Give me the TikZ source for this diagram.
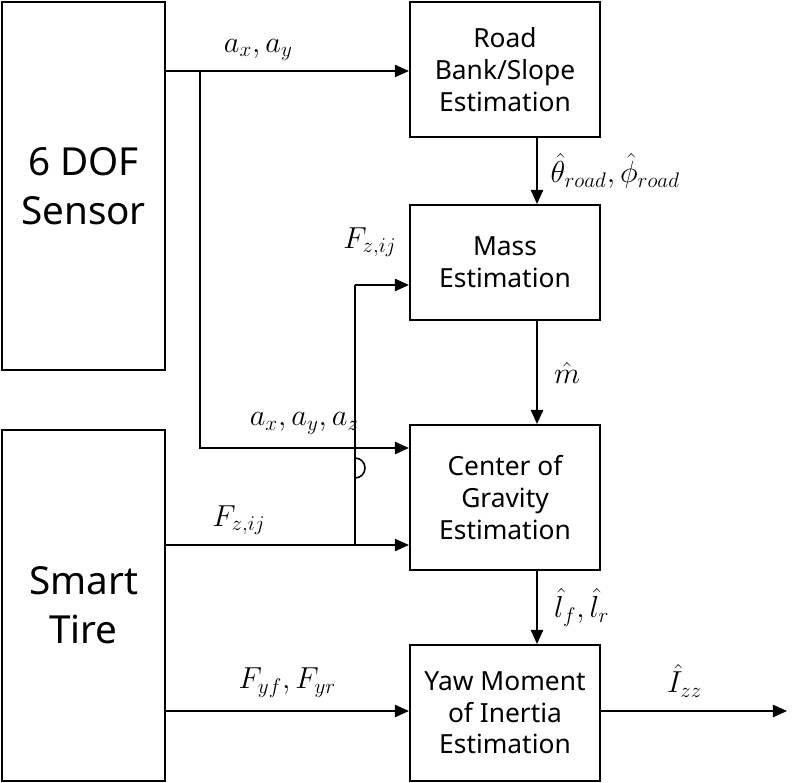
\documentclass[tikz,border=0pt]{standalone}
\usepackage{fontspec}
\setmainfont{Noto Sans}
\usetikzlibrary{arrows.meta}
\begin{document}
\begin{tikzpicture}[x=0.02cm,y=-0.02cm,
  box/.style={draw,line width=1.2pt,inner sep=0pt,align=center,font=\fontsize{15}{18}\selectfont},
  big/.style={draw,line width=1.2pt,inner sep=0pt,align=center,font=\fontsize{22}{28}\selectfont},
  ar/.style={-{Triangle[length=8pt,width=7pt]},line width=0.9pt},
  ln/.style={line width=0.9pt},
  lab/.style={font=\fontsize{17}{20}\selectfont}]
\useasboundingbox (0,0) rectangle (800,783);
\node[big,minimum width=163*0.02cm,minimum height=368*0.02cm] (s6) at (83.5,186) {6 DOF\\Sensor};
\node[big,minimum width=163*0.02cm,minimum height=351*0.02cm] (st) at (83.5,605.5) {Smart\\Tire};
\node[box,minimum width=190*0.02cm,minimum height=135*0.02cm] (road) at (505,69.5) {Road\\Bank/Slope\\Estimation};
\node[box,minimum width=190*0.02cm,minimum height=115*0.02cm] (mass) at (505,262.5) {Mass\\Estimation};
\node[box,minimum width=190*0.02cm,minimum height=145*0.02cm] (cog) at (505,497.5) {Center of\\Gravity\\Estimation};
\node[box,minimum width=190*0.02cm,minimum height=136*0.02cm] (yaw) at (505,713) {Yaw Moment\\of Inertia\\Estimation};
\coordinate (b1) at (200,71);
\coordinate (b2) at (355,545);
\coordinate (out) at (787,711);
\draw[ar] (s6.east|-b1) -- (road.west|-b1) node[lab,pos=0.38,above=2pt] {$a_x, a_y$};
\draw[ar] (b1) -- (200,448) -- (cog.west|-0,448) node[lab,pos=0.5,above=4pt] {$a_x, a_y, a_z$};
\draw[ar] (st.east|-b2) -- (cog.west|-b2) node[lab,pos=0.3,above=2pt] {$F_{z,ij}$};
\draw[ln] (b2) -- (355,458) arc[start angle=-90,end angle=90,radius=10] -- (355,285);
\draw[ar] (355,285) -- (mass.west|-0,285);
\node[lab] (fzl) at (370,242) {$F_{z,ij}$};
\draw[ar] (st.east|-out) -- (yaw.west|-out) node[lab,pos=0.5,above=4pt] {$F_{yf}, F_{yr}$};
\draw[ar] (yaw.east|-out) -- (out) node[lab,pos=0.45,above=4pt] {$\hat{I}_{zz}$};
\draw[ar] (road.south-|537,0) -- (mass.north-|537,0) node[lab,midway,right=4pt] {$\hat{\theta}_{road}, \hat{\phi}_{road}$};
\draw[ar] (mass.south-|537,0) -- (cog.north-|537,0) node[lab,midway,right=6pt] {$\hat{m}$};
\draw[ar] (cog.south-|537,0) -- (yaw.north-|537,0) node[lab,midway,right=6pt] {$\hat{l}_f, \hat{l}_r$};
\end{tikzpicture}
\end{document}
